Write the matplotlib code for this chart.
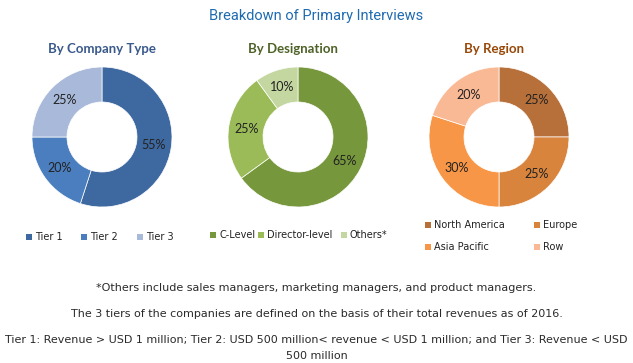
import matplotlib
matplotlib.use("Agg")
import matplotlib.pyplot as plt

# data
company_labels = ["Tier 1", "Tier 2", "Tier 3"]
company_values = [55, 20, 25]
company_colors = ["#3E68A0", "#4A7EBE", "#A8B9DA"]

desig_labels = ["C-Level", "Director-level", "Others*"]
desig_values = [65, 25, 10]
desig_colors = ["#77973D", "#9BBB59", "#C4D7A0"]

region_labels = ["North America", "Europe", "Asia Pacific", "Row"]
region_values = [25, 25, 30, 20]
region_colors = ["#B8703A", "#D9843D", "#F79646", "#FAB995"]

footnotes = [
    "*Others include sales managers, marketing managers, and product managers.",
    "The 3 tiers of the companies are defined on the basis of their total revenues as of 2016.",
    "Tier 1: Revenue > USD 1 million; Tier 2: USD 500 million< revenue < USD 1 million; and Tier 3: Revenue < USD\n500 million",
]

W, H = 633, 363
fig = plt.figure(figsize=(W / 100, H / 100), dpi=100)
ax = fig.add_axes([0, 0, 1, 1])


def Y(y):
    return H - y


def donut(values, colors, cx, cy, r=70):
    ax.pie(values, colors=colors, startangle=90, counterclock=False,
           center=(cx, Y(cy)), radius=r,
           wedgeprops=dict(width=r * 0.5, edgecolor="white", linewidth=0.5),
           autopct="%d%%", pctdistance=0.75,
           textprops=dict(fontsize=9, color="#222222", family="Lato"))


donut(company_values, company_colors, 102, 137)
donut(desig_values, desig_colors, 298, 137)
donut(region_values, region_colors, 499, 137)

ax.set_xlim(0, W)
ax.set_ylim(0, H)
ax.set_aspect("equal")
ax.axis("off")

ax.text(316, Y(16), "Breakdown of Primary Interviews", ha="center", va="center",
        fontsize=10.5, color="#1F6BB0", family="Roboto")
ax.text(102, Y(49), "By Company Type", ha="center", va="center",
        fontsize=9.5, color="#3A5A8C", family="Lato", fontweight="bold")
ax.text(293, Y(49), "By Designation", ha="center", va="center",
        fontsize=9.5, color="#4F6228", family="Lato", fontweight="bold")
ax.text(494, Y(49), "By Region", ha="center", va="center",
        fontsize=9.5, color="#984807", family="Lato", fontweight="bold")


def legend_items(labels, colors, positions):
    for lab, col, (x, y) in zip(labels, colors, positions):
        ax.scatter([x], [Y(y)], marker="s", s=16, color=col, linewidths=0)
        ax.text(x + 6, Y(y), lab, ha="left", va="center", fontsize=7,
                color="#222222", family="DejaVu Sans")


legend_items(company_labels, company_colors, [(29, 237), (84, 237), (140, 237)])
legend_items(desig_labels, desig_colors, [(213, 235), (261, 235), (344, 235)])
legend_items(region_labels, region_colors, [(428, 225), (537, 225), (428, 247), (537, 247)])

ax.text(W / 2, Y(288), footnotes[0], ha="center", va="center", fontsize=8,
        color="#2a2a2a", family="DejaVu Sans")
ax.text(W / 2, Y(314), footnotes[1], ha="center", va="center", fontsize=8,
        color="#2a2a2a", family="DejaVu Sans")
ax.text(W / 2, Y(348), footnotes[2], ha="center", va="center", fontsize=8,
        color="#2a2a2a", family="DejaVu Sans", linespacing=1.75)

fig.savefig("out.png", dpi=100)
